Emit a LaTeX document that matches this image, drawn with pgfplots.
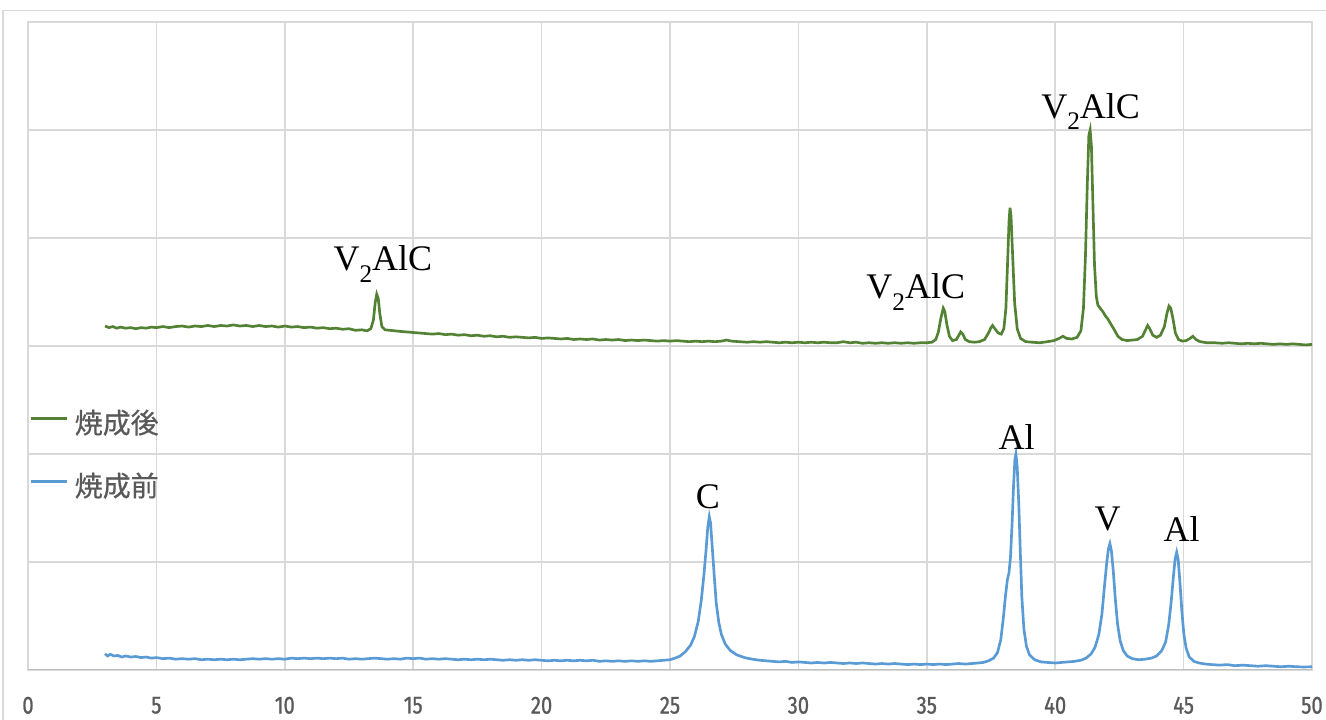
\documentclass[border=0pt]{standalone}
\usepackage{fontspec}
\setmainfont{Liberation Serif}
\newfontfamily\jpfont[FakeBold=0.6]{Noto Sans CJK JP}
\newfontfamily\tickfont[FakeStretch=0.82, FakeBold=0.9]{Fira Sans}
\usepackage{pgfplots}
\pgfplotsset{compat=1.18}
\definecolor{after}{HTML}{548235}
\definecolor{before}{HTML}{5B9BD5}
\definecolor{gridgray}{HTML}{D9D9D9}
\definecolor{axisgray}{HTML}{BFBFBF}
\definecolor{labgray}{HTML}{595959}
\newcommand{\vac}{V\raisebox{-0.32em}{\fontsize{19}{19}\selectfont 2}AlC}

\begin{document}
\begin{tikzpicture}
% outer chart frame (runs past the right and bottom edges)
\draw[gridgray, line width=1.1pt] (-18.75pt,-60pt) -- (-18.75pt,494.6pt) -- (1000pt,494.6pt);
\begin{axis}[
  at={(0,0)}, anchor=south west,
  scale only axis, width=963pt, height=486pt,
  xmin=0, xmax=50, ymin=0, ymax=6,
  xtick={0,5,...,50}, ytick={0,1,...,6}, yticklabels={},
  major tick length=0pt,
  grid=major, major grid style={gridgray, line width=1.1pt},
  axis line style={gridgray, line width=1.1pt},
  /pgf/number format/assume math mode=true,
  xticklabel style={font=\tickfont\fontsize{18.5}{18.5}\selectfont, text=labgray,
                    inner sep=0pt, anchor=center, yshift=-26.5pt},
  legend style={draw=none, fill=none, inner sep=0pt, outer sep=0pt,
                at={(axis cs:0.08,2.0)}, anchor=west, row sep=28pt, column sep=4.5pt,
                nodes={inner sep=0pt, text=labgray, font=\jpfont\fontsize{21}{21}\selectfont}},
  legend image code/.code={\draw[#1] (0pt,0.3em) -- (27pt,0.3em);},
  legend cell align=left,
]
% after firing
\addplot[after, line width=2pt] coordinates {
(3.00,3.185)(3.15,3.17)(3.3,3.18)(3.45,3.165)(3.6,3.175)(3.8,3.165)(4.0,3.17)(4.2,3.16)(4.4,3.17)(4.6,3.165)(4.8,3.175)(5.0,3.17)(5.25,3.18)(5.5,3.17)(5.75,3.18)(6.0,3.185)(6.25,3.175)(6.5,3.185)(6.75,3.18)(7.0,3.19)(7.25,3.18)(7.5,3.19)(7.75,3.185)(8.0,3.195)(8.25,3.185)(8.5,3.19)(8.75,3.18)(9.0,3.19)(9.25,3.18)(9.5,3.185)(9.75,3.175)(10.0,3.185)(10.25,3.175)(10.5,3.18)(10.75,3.17)(11.0,3.175)(11.25,3.165)(11.5,3.17)(11.75,3.16)(12.0,3.165)(12.25,3.155)(12.5,3.16)(12.75,3.145)(13.0,3.15)(13.2,3.14)(13.35,3.16)(13.45,3.24)(13.52,3.40)(13.58,3.48)(13.64,3.44)(13.7,3.30)(13.78,3.18)(13.9,3.15)(14.1,3.145)(14.3,3.14)(14.5,3.135)(14.75,3.13)(15.0,3.125)(15.25,3.12)(15.5,3.115)(15.75,3.11)(16.0,3.115)(16.25,3.105)(16.5,3.11)(16.75,3.10)(17.0,3.105)(17.25,3.095)(17.5,3.10)(17.75,3.09)(18.0,3.095)(18.25,3.085)(18.5,3.09)(18.75,3.08)(19.0,3.085)(19.25,3.08)(19.5,3.075)(19.75,3.08)(20.0,3.07)(20.25,3.075)(20.5,3.07)(20.75,3.065)(21.0,3.07)(21.25,3.06)(21.5,3.065)(21.75,3.06)(22.0,3.065)(22.25,3.055)(22.5,3.06)(22.75,3.055)(23.0,3.06)(23.25,3.05)(23.5,3.055)(23.75,3.05)(24.0,3.055)(24.25,3.05)(24.5,3.045)(24.75,3.05)(25.0,3.045)(25.25,3.05)(25.5,3.045)(25.75,3.04)(26.0,3.045)(26.25,3.04)(26.5,3.045)(26.75,3.04)(27.0,3.045)(27.2,3.055)(27.4,3.045)(27.7,3.04)(28.0,3.035)(28.25,3.04)(28.5,3.035)(28.75,3.04)(29.0,3.035)(29.25,3.03)(29.5,3.035)(29.75,3.03)(30.0,3.035)(30.25,3.03)(30.5,3.035)(30.75,3.03)(31.0,3.035)(31.25,3.03)(31.5,3.03)(31.75,3.04)(32.0,3.03)(32.25,3.035)(32.5,3.025)(32.75,3.03)(33.0,3.025)(33.25,3.03)(33.5,3.025)(33.75,3.03)(34.0,3.025)(34.25,3.03)(34.5,3.025)(34.75,3.03)(35.0,3.03)(35.2,3.035)(35.35,3.06)(35.45,3.13)(35.55,3.26)(35.64,3.35)(35.7,3.32)(35.78,3.20)(35.88,3.09)(36.0,3.05)(36.15,3.06)(36.25,3.10)(36.32,3.13)(36.4,3.11)(36.5,3.06)(36.65,3.04)(36.85,3.035)(37.05,3.04)(37.25,3.06)(37.4,3.12)(37.5,3.17)(37.56,3.19)(37.65,3.16)(37.78,3.12)(37.9,3.11)(38.0,3.16)(38.08,3.35)(38.15,3.80)(38.2,4.15)(38.24,4.28)(38.28,4.20)(38.34,3.85)(38.42,3.40)(38.52,3.16)(38.65,3.07)(38.85,3.04)(39.1,3.035)(39.4,3.03)(39.7,3.04)(39.95,3.05)(40.15,3.07)(40.3,3.09)(40.45,3.07)(40.65,3.065)(40.85,3.08)(41.0,3.14)(41.1,3.35)(41.18,3.85)(41.25,4.5)(41.31,4.95)(41.36,5.00)(41.41,4.85)(41.47,4.30)(41.53,3.75)(41.6,3.46)(41.66,3.38)(41.75,3.35)(41.85,3.32)(41.95,3.28)(42.05,3.25)(42.15,3.21)(42.3,3.15)(42.44,3.09)(42.6,3.06)(42.8,3.05)(43.0,3.055)(43.2,3.06)(43.4,3.09)(43.52,3.15)(43.6,3.19)(43.68,3.16)(43.8,3.10)(43.95,3.08)(44.1,3.10)(44.25,3.18)(44.35,3.30)(44.43,3.37)(44.5,3.35)(44.58,3.26)(44.68,3.12)(44.8,3.06)(44.95,3.045)(45.1,3.05)(45.25,3.07)(45.36,3.09)(45.48,3.06)(45.65,3.04)(45.9,3.03)(46.2,3.03)(46.5,3.025)(46.75,3.03)(47.0,3.025)(47.25,3.02)(47.5,3.025)(47.75,3.02)(48.0,3.025)(48.25,3.02)(48.5,3.015)(48.75,3.02)(49.0,3.015)(49.25,3.02)(49.5,3.015)(49.75,3.01)(50.0,3.015)
};
\addlegendentry{焼成後}
% before firing
\addplot[before, line width=2pt] coordinates {
(3.0,0.15)(3.1,0.13)(3.2,0.145)(3.35,0.13)(3.5,0.135)(3.65,0.12)(3.8,0.13)(4.0,0.12)(4.2,0.125)(4.4,0.115)(4.6,0.12)(4.8,0.11)(5.0,0.115)(5.25,0.105)(5.5,0.11)(5.75,0.10)(6.0,0.105)(6.25,0.10)(6.5,0.105)(6.75,0.095)(7.0,0.10)(7.25,0.095)(7.5,0.10)(7.75,0.095)(8.0,0.10)(8.25,0.095)(8.5,0.10)(8.75,0.105)(9.0,0.10)(9.25,0.105)(9.5,0.10)(9.75,0.105)(10.0,0.10)(10.25,0.11)(10.5,0.105)(10.75,0.11)(11.0,0.105)(11.25,0.11)(11.5,0.105)(11.75,0.11)(12.0,0.105)(12.25,0.11)(12.5,0.10)(12.75,0.105)(13.0,0.10)(13.25,0.105)(13.5,0.11)(13.75,0.105)(14.0,0.10)(14.25,0.105)(14.5,0.10)(14.75,0.11)(15.0,0.105)(15.25,0.11)(15.5,0.10)(15.75,0.105)(16.0,0.10)(16.25,0.105)(16.5,0.10)(16.75,0.095)(17.0,0.10)(17.25,0.095)(17.5,0.10)(17.75,0.095)(18.0,0.10)(18.25,0.095)(18.5,0.09)(18.75,0.095)(19.0,0.09)(19.25,0.095)(19.5,0.09)(19.75,0.095)(20.0,0.09)(20.25,0.085)(20.5,0.09)(20.75,0.085)(21.0,0.09)(21.25,0.085)(21.5,0.09)(21.75,0.085)(22.0,0.09)(22.25,0.08)(22.5,0.085)(22.75,0.08)(23.0,0.085)(23.25,0.08)(23.5,0.085)(23.75,0.08)(24.0,0.085)(24.25,0.08)(24.5,0.085)(24.75,0.09)(25.0,0.095)(25.2,0.11)(25.4,0.13)(25.6,0.17)(25.8,0.23)(25.95,0.31)(26.1,0.45)(26.22,0.65)(26.32,0.88)(26.4,1.10)(26.47,1.32)(26.53,1.42)(26.58,1.36)(26.65,1.12)(26.72,0.88)(26.8,0.62)(26.9,0.44)(27.0,0.33)(27.15,0.24)(27.35,0.18)(27.6,0.14)(27.9,0.115)(28.2,0.10)(28.5,0.09)(28.75,0.085)(29.0,0.08)(29.25,0.075)(29.5,0.08)(29.75,0.07)(30.0,0.075)(30.25,0.07)(30.5,0.065)(30.75,0.07)(31.0,0.065)(31.25,0.07)(31.5,0.065)(31.75,0.06)(32.0,0.065)(32.25,0.06)(32.5,0.065)(32.75,0.06)(33.0,0.055)(33.25,0.06)(33.5,0.055)(33.75,0.06)(34.0,0.055)(34.25,0.05)(34.5,0.055)(34.75,0.05)(35.0,0.055)(35.25,0.05)(35.5,0.055)(35.75,0.05)(36.0,0.055)(36.25,0.06)(36.5,0.055)(36.75,0.06)(37.0,0.065)(37.2,0.07)(37.4,0.085)(37.6,0.11)(37.75,0.16)(37.88,0.28)(37.98,0.48)(38.06,0.68)(38.14,0.84)(38.2,0.90)(38.26,1.05)(38.32,1.35)(38.38,1.72)(38.43,1.95)(38.47,2.00)(38.52,1.88)(38.58,1.55)(38.64,1.10)(38.7,0.68)(38.78,0.38)(38.88,0.22)(39.0,0.14)(39.2,0.095)(39.45,0.075)(39.7,0.07)(40.0,0.065)(40.25,0.07)(40.5,0.075)(40.75,0.08)(41.0,0.09)(41.2,0.11)(41.4,0.15)(41.55,0.21)(41.7,0.33)(41.82,0.52)(41.92,0.78)(42.0,0.98)(42.07,1.12)(42.13,1.17)(42.19,1.10)(42.26,0.92)(42.34,0.66)(42.43,0.42)(42.53,0.27)(42.65,0.18)(42.8,0.13)(43.0,0.105)(43.25,0.095)(43.5,0.10)(43.75,0.11)(43.95,0.13)(44.15,0.18)(44.3,0.26)(44.42,0.42)(44.52,0.64)(44.6,0.86)(44.67,1.03)(44.73,1.09)(44.79,1.02)(44.86,0.80)(44.93,0.55)(45.01,0.33)(45.1,0.2)(45.22,0.12)(45.4,0.08)(45.6,0.065)(45.85,0.055)(46.1,0.05)(46.4,0.045)(46.7,0.05)(47.0,0.04)(47.3,0.045)(47.6,0.04)(47.9,0.035)(48.2,0.04)(48.5,0.035)(48.8,0.03)(49.1,0.035)(49.4,0.03)(49.7,0.028)(50.0,0.03)
};
\addlegendentry{焼成前}
\draw[axisgray, line width=1.1pt] (rel axis cs:0,0) -- (rel axis cs:1,0);
% peak labels
\begin{scope}[every node/.style={font=\fontsize{27}{27}\selectfont, text=black}]
\node at (axis cs:13.82,3.76) {\vac};
\node at (axis cs:34.57,3.50) {\vac};
\node at (axis cs:41.38,5.17) {\vac};
\node at (axis cs:26.47,1.60) {C};
\node at (axis cs:38.50,2.16) {Al};
\node at (axis cs:42.04,1.40) {V};
\node at (axis cs:44.92,1.31) {Al};
\end{scope}
\end{axis}
\pgfresetboundingbox
\path[use as bounding box] (-21pt,-37.5pt) rectangle (973.5pt,502.5pt);
\end{tikzpicture}
\end{document}
